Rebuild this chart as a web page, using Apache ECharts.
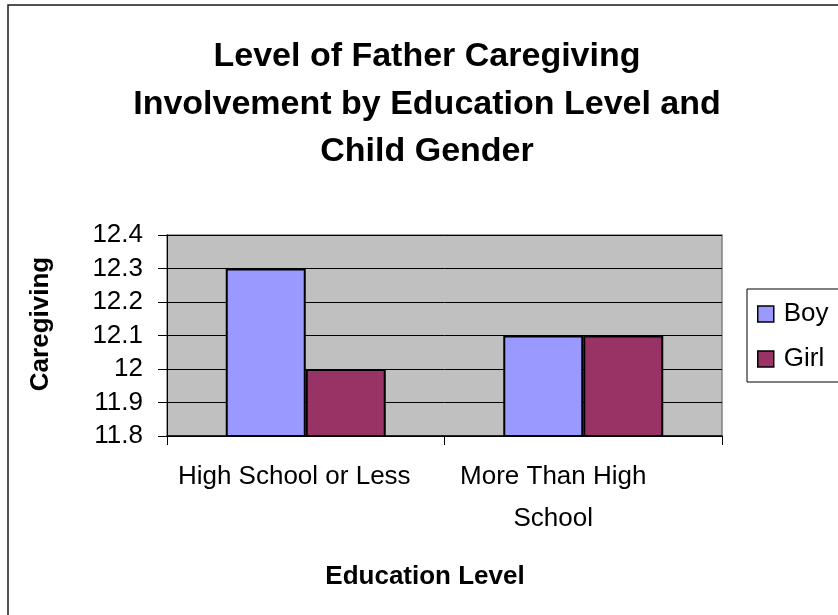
<!DOCTYPE html>
<html>
<head>
<meta charset="utf-8">
<script src="https://cdn.jsdelivr.net/npm/echarts@6/dist/echarts.min.js"></script>
<style>
  html, body { margin: 0; padding: 0; background: #fff; }
  #chart { width: 838px; height: 615px; }
</style>
</head>
<body>
<div id="chart"></div>
<script>
// data
const categories = ['High School or Less', 'More Than High\nSchool']
const boyValues = [12.3, 12.1]
const girlValues = [12.0, 12.1]
const yMin = 11.8
const yMax = 12.4
const yStep = 0.1

const font = "'Liberation Sans', Arial, sans-serif"

const chart = echarts.init(document.getElementById('chart'))

chart.setOption({
  backgroundColor: '#fff',
  animation: false,
  title: {
    text: 'Level of Father Caregiving\nInvolvement by Education Level and\nChild Gender',
    left: 427,
    top: 33,
    padding: 0,
    textAlign: 'center',
    textStyle: { fontFamily: font, fontSize: 34, fontWeight: 'bold', color: '#000', lineHeight: 47.5 }
  },
  graphic: [
    { // outer frame (only left / top edges fall inside the picture)
      type: 'rect', z: 0,
      shape: { x: 8, y: 5, width: 1000, height: 1000 },
      style: { fill: 'none', stroke: '#1a1a1a', lineWidth: 1.5 }
    },
    { // legend box
      type: 'rect', z: 1,
      shape: { x: 747, y: 289, width: 200, height: 93 },
      style: { fill: '#fff', stroke: '#000', lineWidth: 1 }
    }
  ],
  legend: {
    orient: 'vertical',
    left: 757,
    top: 299,
    padding: 0,
    itemWidth: 16,
    itemHeight: 16,
    itemGap: 15,
    icon: 'rect',
    z: 5,
    textStyle: { fontFamily: font, fontSize: 26, color: '#000', lineHeight: 30, padding: [0, 0, 0, 5] },
    itemStyle: { borderColor: '#000', borderWidth: 1.5 },
    data: ['Boy', 'Girl']
  },
  grid: {
    left: 167,
    top: 235,
    width: 555,
    height: 201,
    show: true,
    backgroundColor: '#C0C0C0',
    borderColor: '#808080',
    borderWidth: 1.5
  },
  xAxis: {
    type: 'category',
    data: categories,
    name: 'Education Level',
    nameLocation: 'middle',
    nameGap: 126,
    nameTextStyle: { fontFamily: font, fontSize: 26, fontWeight: 'bold', color: '#000', lineHeight: 30, padding: [0, 39, 0, 0] },
    axisLine: { lineStyle: { color: '#000', width: 1.5 } },
    axisTick: { show: true, length: 9, lineStyle: { color: '#000' } },
    axisLabel: {
      interval: 0,
      fontFamily: font, fontSize: 26, color: '#000', lineHeight: 42, margin: 20,
      formatter: function (v, i) { return i === 0 ? '{a|' + v + '}' : v.split('\n').map(s => '{b|' + s + '}').join('\n') },
      rich: {
        a: { fontFamily: font, fontSize: 26, color: '#000', lineHeight: 42, padding: [0, 23, 0, 0] },
        b: { fontFamily: font, fontSize: 26, color: '#000', lineHeight: 42, padding: [0, 60, 0, 0] }
      }
    }
  },
  yAxis: {
    type: 'value',
    min: yMin,
    max: yMax,
    interval: yStep,
    name: 'Caregiving',
    nameLocation: 'middle',
    nameRotate: 90,
    nameGap: 113,
    nameTextStyle: { fontFamily: font, fontSize: 26, fontWeight: 'bold', color: '#000', padding: [0, 0, 0, 23] },
    axisLine: { show: true, lineStyle: { color: '#000', width: 1 } },
    axisTick: { show: true, length: 9, lineStyle: { color: '#000' } },
    axisLabel: {
      fontFamily: font, fontSize: 26, color: '#000', margin: 24,
      formatter: function (v) { return String(parseFloat(v.toFixed(1))) }
    },
    splitLine: { show: true, lineStyle: { color: '#000', width: 1 } }
  },
  series: [
    {
      name: 'Boy',
      type: 'bar',
      data: boyValues,
      barWidth: 80,
      barGap: '0%',
      itemStyle: { color: '#9999FF', borderColor: '#000', borderWidth: 2 }
    },
    {
      name: 'Girl',
      type: 'bar',
      data: girlValues,
      barWidth: 80,
      barGap: '0%',
      itemStyle: { color: '#993366', borderColor: '#000', borderWidth: 2 }
    }
  ]
})
</script>
</body>
</html>
